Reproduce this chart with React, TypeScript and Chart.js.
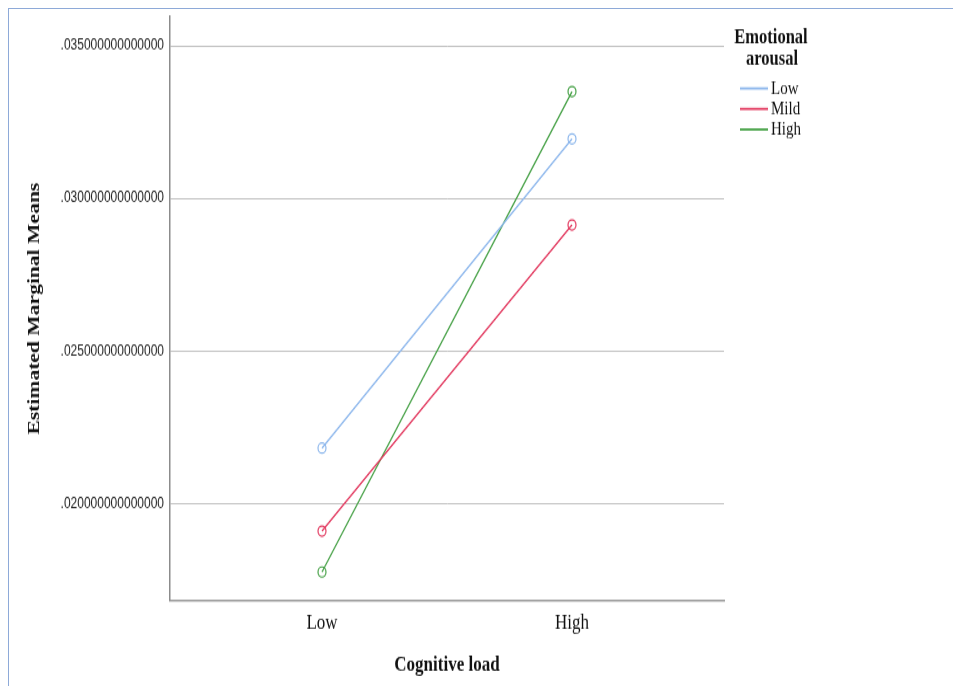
import { useEffect, useRef } from "react";
import { Chart, registerables } from "chart.js";

Chart.register(...registerables);

// Estimated marginal means of the dependent measure, by cognitive load and emotional arousal
const cognitiveLoad = ["Low", "High"];
const arousalLevels = ["Low", "Mild", "High"];
const lowArousal = [0.02182, 0.03195];
const mildArousal = [0.0191, 0.02913];
const highArousal = [0.01776, 0.0335];
const seriesValues = [lowArousal, mildArousal, highArousal];
const yTickStep = 0.005;
const yMin = 0.016826;
const yMax = 0.035949;
const xMin = -0.608;
const xMax = 1.608;

const seriesColors = ["#8db7ec", "#e2395f", "#45a045"];

// canvas is drawn at this height and shown stretched to the full page height
const DRAW_W = 953;
const DRAW_H = 540;
const SHOW_H = 686;

const serif = "'Liberation Serif', 'Times New Roman', serif";

const legendPlugin = {
  id: "arousalLegend",
  afterDraw(chart: any) {
    const ctx = chart.ctx;
    ctx.save();
    ctx.fillStyle = "#111";
    ctx.textAlign = "center";
    ctx.textBaseline = "middle";
    ctx.font = `bold 16.5px ${serif}`;
    ctx.fillText("Emotional", 771, 30.2);
    ctx.fillText("arousal", 772, 46.6);
    ctx.font = `15px ${serif}`;
    ctx.textAlign = "left";
    const rowY = [69.6, 85.7, 101.9];
    chart.data.datasets.forEach((ds: any, i: number) => {
      const y = rowY[i];
      ctx.strokeStyle = ds.borderColor;
      ctx.lineWidth = 1.8;
      ctx.beginPath();
      ctx.moveTo(740, y);
      ctx.lineTo(768, y);
      ctx.stroke();
      ctx.fillStyle = "#111";
      ctx.fillText(ds.label, 771, y + 0.5);
    });
    ctx.restore();
  },
};

export default function App() {
  const canvasRef = useRef<HTMLCanvasElement | null>(null);

  useEffect(() => {
    const canvas = canvasRef.current;
    if (!canvas) return;
    const chart = new Chart(canvas, {
      type: "line",
      data: {
        datasets: arousalLevels.map((label, i) => ({
          label,
          data: cognitiveLoad.map((_, j) => ({ x: j, y: seriesValues[i][j] })),
          borderColor: seriesColors[i],
          backgroundColor: "rgba(0,0,0,0)",
          borderWidth: 1.3,
          pointRadius: 4,
          pointBorderWidth: 1.2,
          pointBorderColor: seriesColors[i],
          pointBackgroundColor: "rgba(0,0,0,0)",
          fill: false,
          tension: 0,
        })),
      },
      options: {
        responsive: false,
        animation: false,
        devicePixelRatio: 1,
        layout: { padding: { top: 12.6, right: 229, bottom: 0, left: 15 } },
        plugins: {
          legend: { display: false },
          tooltip: { enabled: false },
        },
        scales: {
          x: {
            type: "linear",
            min: xMin,
            max: xMax,
            afterBuildTicks: (scale: any) => {
              scale.ticks = cognitiveLoad.map((_, i) => ({ value: i }));
            },
            afterFit: (scale: any) => {
              scale.height = 67.3;
            },
            grid: { display: false, drawTicks: false, tickLength: 0 },
            border: { display: true, color: "#9a9a9a", width: 1.6 },
            ticks: {
              padding: 7.5,
              color: "#111",
              font: { family: serif, size: 17 },
              maxRotation: 0,
              callback: (v: any) => cognitiveLoad[v as number] ?? "",
            },
            title: {
              display: true,
              text: "Cognitive load",
              color: "#111",
              font: { family: serif, size: 17, weight: "bold" },
              padding: { top: 0, bottom: 6.4 },
            },
          },
          y: {
            type: "linear",
            min: yMin,
            max: yMax,
            afterFit: (scale: any) => {
              scale.width = 155;
            },
            grid: { color: "#c2c2c2", lineWidth: 1, drawTicks: false, tickLength: 0 },
            border: { display: true, color: "#8c8c8c", width: 1.5 },
            ticks: {
              stepSize: yTickStep,
              includeBounds: false,
              padding: 6,
              color: "#222",
              font: { family: "'Liberation Sans', Arial, sans-serif", size: 12 },
              callback: (v: any) => Number(v).toFixed(15).replace(/^0/, ""),
            },
            title: {
              display: true,
              text: "Estimated Marginal Means",
              color: "#111",
              font: { family: serif, size: 17, weight: "bold" },
              padding: { top: 9.8, bottom: 0 },
            },
          },
        },
      },
      plugins: [legendPlugin],
    });
    return () => chart.destroy();
  }, []);

  return (
    <div
      style={{
        position: "absolute",
        left: 0,
        top: 0,
        width: DRAW_W,
        height: SHOW_H,
        background: "#fff",
        overflow: "hidden",
      }}
    >
      <canvas
        ref={canvasRef}
        width={DRAW_W}
        height={DRAW_H}
        style={{ display: "block", width: `${DRAW_W}px`, height: `${SHOW_H}px` }}
      />
      <div
        style={{
          position: "absolute",
          left: 8,
          top: 8,
          width: DRAW_W,
          height: SHOW_H,
          borderLeft: "1px solid #8eaad8",
          borderTop: "1px solid #8eaad8",
          pointerEvents: "none",
        }}
      />
    </div>
  );
}
